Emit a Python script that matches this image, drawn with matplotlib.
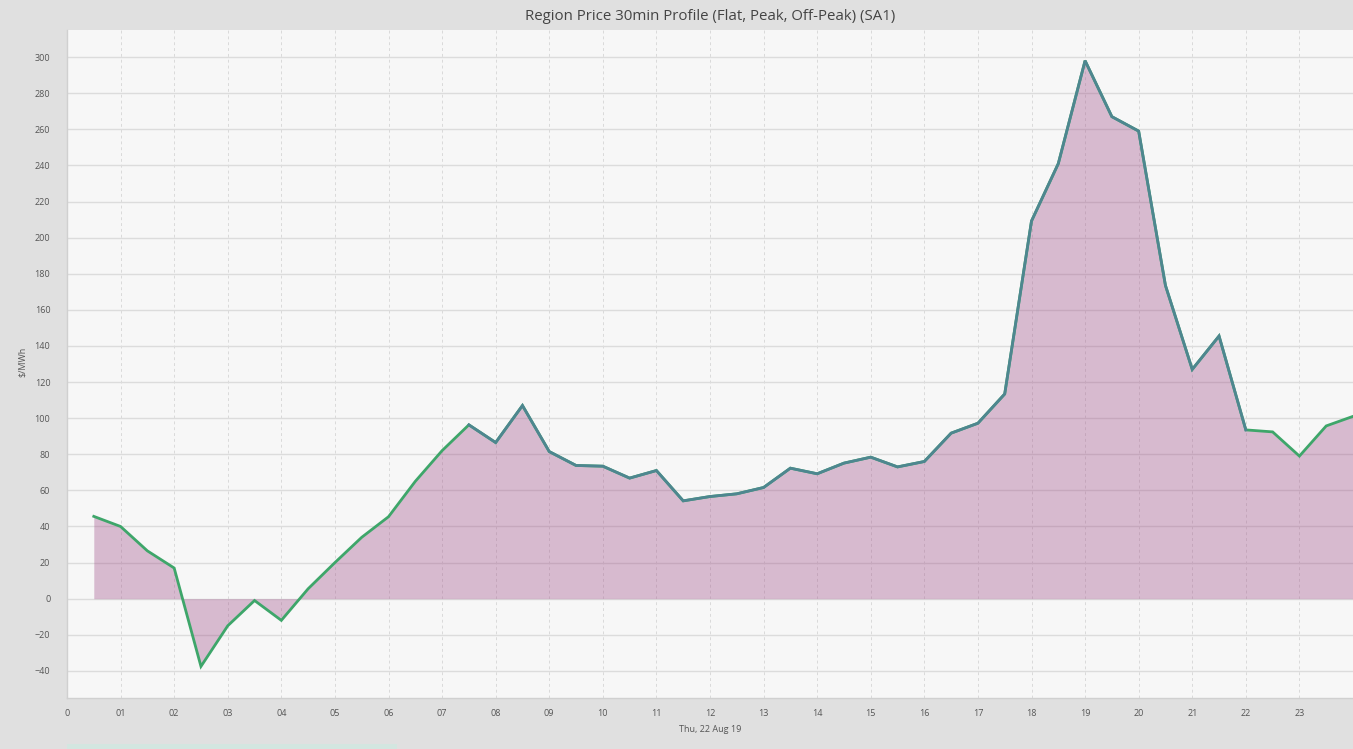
import matplotlib
matplotlib.use("Agg")
import matplotlib.pyplot as plt
from matplotlib.patches import Rectangle
import numpy as np

plt.rcParams['font.family'] = ['Open Sans', 'DejaVu Sans']

# Half-hour interval end times (hours)
hours = [0.5, 1.0, 1.5, 2.0, 2.5, 3.0, 3.5, 4.0, 4.5, 5.0, 5.5, 6.0,
         6.5, 7.0, 7.5, 8.0, 8.5, 9.0, 9.5, 10.0, 10.5, 11.0, 11.5, 12.0,
         12.5, 13.0, 13.5, 14.0, 14.5, 15.0, 15.5, 16.0, 16.5, 17.0, 17.5, 18.0,
         18.5, 19.0, 19.5, 20.0, 20.5, 21.0, 21.5, 22.0, 22.5, 23.0, 23.5, 24.0]
# Flat price profile ($/MWh)
price = [45.6, 40.0, 26.5, 17.0, -37.5, -15.0, -1.0, -12.0, 5.5, 20.0, 34.0, 45.4,
         65.0, 82.0, 96.3, 86.5, 107.0, 81.5, 73.8, 73.4, 66.8, 71.0, 54.2, 56.6,
         58.1, 61.6, 72.3, 69.2, 75.1, 78.4, 73.0, 76.0, 91.7, 97.2, 113.4, 209.2,
         241.0, 298.0, 267.0, 259.0, 173.5, 127.0, 145.5, 93.5, 92.4, 79.0, 95.7, 101.0]
peak_start, peak_end = 7.5, 22.0

xtick_pos = list(range(0, 24))
xtick_labels = ["0"] + ["%02d" % h for h in range(1, 24)]
ytick_pos = list(range(-40, 301, 20))

title = "Region Price 30min Profile (Flat, Peak, Off-Peak) (SA1)"
xlabel = "Thu, 22 Aug 19"
ylabel = "$/MWh"

W, H = 1353, 749
fig = plt.figure(figsize=(W / 100, H / 100), dpi=100, facecolor='#e0e0e0')
ax = fig.add_axes([67 / W, 1 - 698 / H, (1353 - 67) / W, (698 - 30) / H])
ax.set_facecolor('#f7f7f7')

x = np.array(hours)
y = np.array(price)

ax.fill_between(x, y, 0, color='#a04e88', alpha=0.36, linewidth=0, zorder=2)
ax.plot(x, y, color='#3ea66a', lw=2.0, zorder=3, solid_joinstyle='miter')
m = (x >= peak_start) & (x <= peak_end)
ax.plot(x[m], y[m], color='#4e8690', lw=2.0, zorder=4, solid_joinstyle='miter')

ax.set_xlim(0, 24)
ax.set_ylim(-55, 315)
ax.set_xticks(xtick_pos)
ax.set_xticklabels(xtick_labels)
ax.set_yticks(ytick_pos)
ax.tick_params(axis='both', length=0, labelsize=6.5, labelcolor='#555555')
ax.tick_params(axis='x', pad=8)
ax.tick_params(axis='y', pad=12)

ax.yaxis.grid(True, color='#dcdcdc', lw=1.0, zorder=1)
ax.xaxis.grid(True, color='#dadada', lw=0.7, ls=(0, (3, 3)), zorder=1)
ax.set_axisbelow(True)

for s in ['top', 'right']:
    ax.spines[s].set_visible(False)
for s in ['left', 'bottom']:
    ax.spines[s].set_color('#d0d0d0')
    ax.spines[s].set_linewidth(1.0)

fig.text((67 + 1353) / 2 / W, 1 - 17 / H, title, ha='center', va='center',
         fontsize=10.8, color='#444444')
fig.text((67 + 1353) / 2 / W, 1 - 729 / H, xlabel, ha='center', va='center',
         fontsize=6.5, color='#555555')
fig.text(22 / W, 1 - 362 / H, ylabel, ha='center', va='center', rotation=90,
         fontsize=6.5, color='#555555')

fig.patches.append(Rectangle((67 / W, 0), (397 - 67) / W, 5 / H,
                             transform=fig.transFigure, facecolor='#d3e6e0',
                             edgecolor='none'))

fig.savefig('out.png', dpi=100, facecolor=fig.get_facecolor())
